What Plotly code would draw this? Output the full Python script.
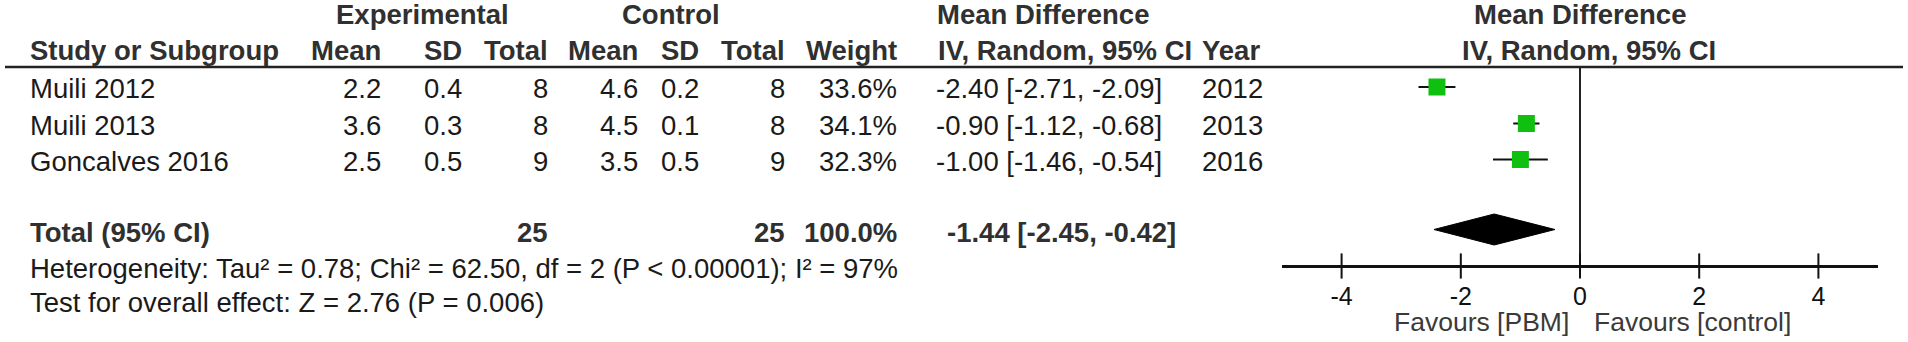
import plotly.graph_objects as go

# ---------------- data ----------------
studies = ["Muili 2012", "Muili 2013", "Goncalves 2016"]
exp_mean = ["2.2", "3.6", "2.5"]
exp_sd = ["0.4", "0.3", "0.5"]
exp_n = ["8", "8", "9"]
ctl_mean = ["4.6", "4.5", "3.5"]
ctl_sd = ["0.2", "0.1", "0.5"]
ctl_n = ["8", "8", "9"]
weights = ["33.6%", "34.1%", "32.3%"]
md = [-2.40, -0.90, -1.00]
ci_lo = [-2.71, -1.12, -1.46]
ci_hi = [-2.09, -0.68, -0.54]
years = ["2012", "2013", "2016"]

total_exp_n = "25"
total_ctl_n = "25"
total_weight = "100.0%"
total_md = -1.44
total_lo = -2.45
total_hi = -0.42

heterogeneity = "Heterogeneity: Tau² = 0.78; Chi² = 62.50, df = 2 (P < 0.00001); I² = 97%"
overall = "Test for overall effect: Z = 2.76 (P = 0.006)"
tick_vals = [-4, -2, 0, 2, 4]
tick_text = ["-4", "-2", "0", "2", "4"]
favours_left = "Favours [PBM]"
favours_right = "Favours [control]"

# ---------------- layout constants (pixels) ----------------
W, H = 1908, 342
FONT = "Liberation Sans, Arial, sans-serif"
FS = 27.5
ROW_Y = [88.5, 125, 161]
TOTAL_Y = 232.5
HET_Y = 268
TEST_Y = 302.5
HDR1_Y = 14
HDR2_Y = 50.5
AXIS_Y = 266
HLINE_Y = 67
PLOT_X0, PLOT_X1 = 1282, 1878
GREEN = "#10c010"
TXT = "#1a1a1a"
HDR = "#303030"

fig = go.Figure()

# zero line
fig.add_trace(go.Scatter(x=[0, 0], y=[HLINE_Y + 1, AXIS_Y], mode="lines",
                         line=dict(color="#222222", width=2), hoverinfo="skip",
                         showlegend=False))

# study CIs + squares
err_plus = [h - m for h, m in zip(ci_hi, md)]
err_minus = [m - l for m, l in zip(md, ci_lo)]
fig.add_trace(go.Scatter(
    x=md, y=[y - 1.5 for y in ROW_Y], mode="markers",
    marker=dict(symbol="square", size=17, color=GREEN, line=dict(width=0)),
    error_x=dict(type="data", array=err_plus, arrayminus=err_minus,
                 color="#111111", thickness=2, width=0),
    showlegend=False, hoverinfo="skip"))

# diamond
dh = 15.5
yc = TOTAL_Y - 3
fig.add_trace(go.Scatter(
    x=[total_lo, total_md, total_hi, total_md, total_lo],
    y=[yc, yc - dh, yc, yc + dh, yc],
    mode="lines", fill="toself", fillcolor="black",
    line=dict(color="black", width=1), showlegend=False, hoverinfo="skip"))

# tick marks crossing the axis
fig.add_trace(go.Scatter(
    x=tick_vals, y=[AXIS_Y] * len(tick_vals), mode="markers",
    marker=dict(symbol="line-ns", size=18, line=dict(color="#111111", width=2)),
    cliponaxis=False, showlegend=False, hoverinfo="skip"))

ann = []


def txt(x, y, s, anchor="right", bold=False, color=TXT, size=FS):
    ann.append(dict(x=x / W, y=y, xref="paper", yref="y", text=(f"<b>{s}</b>" if bold else s),
                    showarrow=False, xanchor=anchor, yanchor="middle",
                    font=dict(family=FONT, size=size, color=color)))


# headers
txt(422.5, HDR1_Y, "Experimental", "center", True, HDR)
txt(670.5, HDR1_Y, "Control", "center", True, HDR)
txt(935, HDR1_Y, "Mean Difference", "left", True, HDR)
txt(1580, HDR1_Y, "Mean Difference", "center", True, HDR)

txt(28, HDR2_Y, "Study or Subgroup", "left", True, HDR)
txt(383, HDR2_Y, "Mean", "right", True, HDR)
txt(464, HDR2_Y, "SD", "right", True, HDR)
txt(550, HDR2_Y, "Total", "right", True, HDR)
txt(640, HDR2_Y, "Mean", "right", True, HDR)
txt(701, HDR2_Y, "SD", "right", True, HDR)
txt(787, HDR2_Y, "Total", "right", True, HDR)
txt(899, HDR2_Y, "Weight", "right", True, HDR)
txt(936, HDR2_Y, "IV, Random, 95% CI", "left", True, HDR)
txt(1200, HDR2_Y, "Year", "left", True, HDR)
txt(1589, HDR2_Y, "IV, Random, 95% CI", "center", True, HDR)

# rows
for i, y in enumerate(ROW_Y):
    txt(28, y, studies[i], "left")
    txt(383, y, exp_mean[i])
    txt(464, y, exp_sd[i])
    txt(550, y, exp_n[i])
    txt(640, y, ctl_mean[i])
    txt(701, y, ctl_sd[i])
    txt(787, y, ctl_n[i])
    txt(899, y, weights[i])
    txt(1164, y, f"{md[i]:.2f} [{ci_lo[i]:.2f}, {ci_hi[i]:.2f}]")
    txt(1200, y, years[i], "left")

# total
txt(28, TOTAL_Y, "Total (95% CI)", "left", True, HDR)
txt(550, TOTAL_Y, total_exp_n, "right", True, HDR)
txt(787, TOTAL_Y, total_ctl_n, "right", True, HDR)
txt(899, TOTAL_Y, total_weight, "right", True, HDR)
txt(1061, TOTAL_Y, f"{total_md:.2f} [{total_lo:.2f}, {total_hi:.2f}]", "center", True, HDR)

txt(28, HET_Y, heterogeneity, "left")
txt(28, TEST_Y, overall, "left")

# favours labels
txt(1571, 322, favours_left, "right", False, "#3a3a3a", 26.5)
txt(1592, 322, favours_right, "left", False, "#3a3a3a", 26.5)

fig.update_layout(
    template="none",
    width=W, height=H, margin=dict(l=0, r=0, t=0, b=0, pad=0, autoexpand=False),
    paper_bgcolor="white", plot_bgcolor="white",
    annotations=ann,
    shapes=[dict(type="line", xref="paper", yref="y", x0=5 / W, x1=1903 / W,
                 y0=HLINE_Y, y1=HLINE_Y, line=dict(color="#222222", width=2.5))],
    xaxis=dict(domain=[PLOT_X0 / W, PLOT_X1 / W], range=[-5, 5], anchor="free",
               position=(H - AXIS_Y) / H, showline=True, linecolor="#111111",
               linewidth=2.5, tickvals=tick_vals, ticktext=tick_text,
               ticks="outside", ticklen=7, tickcolor="rgba(0,0,0,0)",
               tickfont=dict(family=FONT, size=25, color="#111111"),
               showgrid=False, zeroline=False, fixedrange=True, automargin=False),
    yaxis=dict(domain=[0, 1], range=[H, 0], visible=False, fixedrange=True,
               automargin=False),
)

fig.write_html("out.html", config={"displayModeBar": False, "staticPlot": True},
               post_script="document.body.style.margin='0';document.body.style.overflow='hidden';")
